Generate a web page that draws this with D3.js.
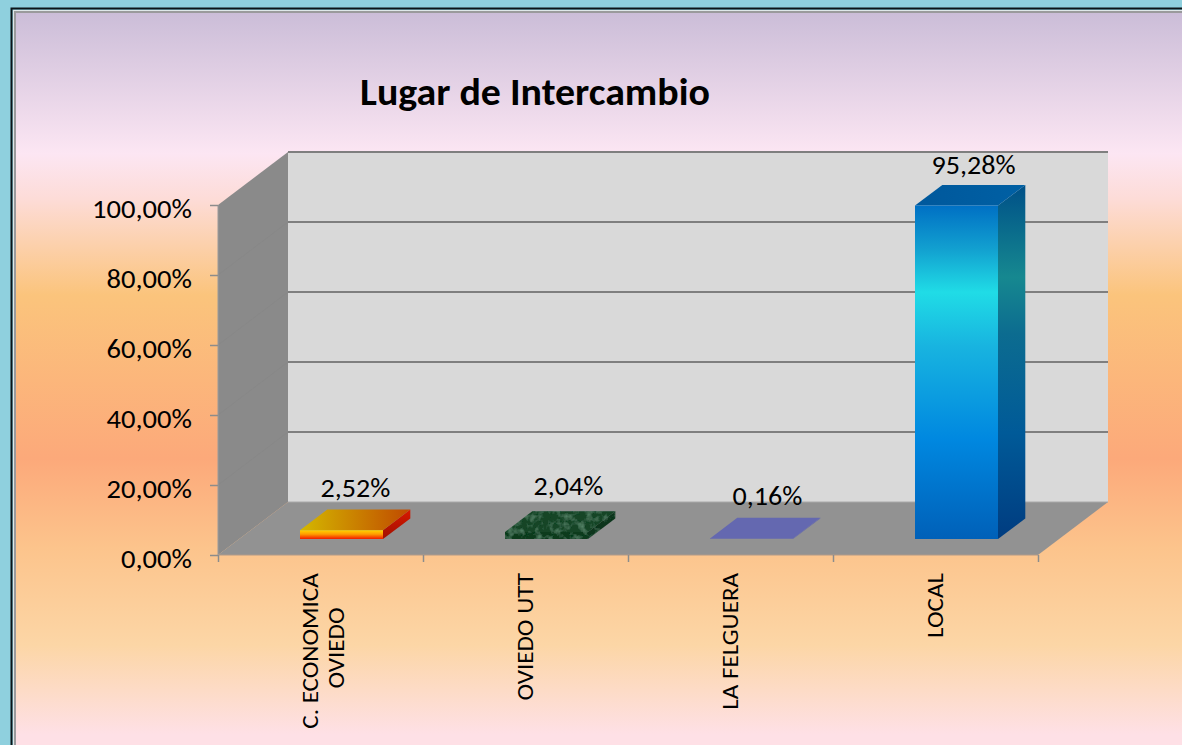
<!DOCTYPE html>
<html><head><meta charset="utf-8">
<script src="https://cdn.jsdelivr.net/npm/d3@7"></script>
<style>html,body{margin:0;padding:0;background:#8fd0de;overflow:hidden}text{font-family:Carlito,Lato,"Open Sans",sans-serif}</style>
</head><body><svg id="c" width="1182" height="745"></svg>
<script>
const categories = [["C. ECONOMICA","OVIEDO"],["OVIEDO UTT"],["LA FELGUERA"],["LOCAL"]];
const values = [2.52, 2.04, 0.16, 95.28];
const valueLabels = ["2,52%","2,04%","0,16%","95,28%"];
const yTicks = [0,20,40,60,80,100];
const yTickLabels = ["0,00%","20,00%","40,00%","60,00%","80,00%","100,00%"];
const titleText = "Lugar de Intercambio";

const W=1182,H=745;
const svg=d3.select("#c");
const defs=svg.append("defs");
const grad=(id,stops,x2=0,y2=1)=>{const g=defs.append("linearGradient").attr("id",id).attr("x1",0).attr("y1",0).attr("x2",x2).attr("y2",y2);
 stops.forEach(s=>g.append("stop").attr("offset",s[0]).attr("stop-color",s[1]));return g;};
grad("bg",[[0,"#cbbdd8"],[.19,"#fce6f3"],[.25,"#fddcd8"],[.38,"#fbc47c"],[.60,"#fca97a"],[.72,"#fcc48c"],[.85,"#fcd6a6"],[.97,"#fee0e6"]]);
grad("fTop",[[0,"#d4b800"],[1,"#c04a00"]],1,0);
grad("fFront",[[0,"#ffd400"],[.45,"#ff9a00"],[1,"#f01800"]]);
grad("fSide",[[0,"#d81800"],[1,"#a01000"]]);
grad("lFront",[[0,"#0070c4"],[.13,"#12a0d0"],[.26,"#20dce6"],[.42,"#18b4e0"],[.7,"#0088e0"],[1,"#0060b8"]]);
grad("lSide",[[0,"#005088"],[.13,"#0a6c8c"],[.26,"#168890"],[.42,"#0c6c90"],[.7,"#005a98"],[1,"#003c80"]]);
grad("lTop",[[0,"#00589c"],[1,"#0060a4"]],1,0);
const f=defs.append("filter").attr("id","marble").attr("x",0).attr("y",0).attr("width",1).attr("height",1);
f.append("feTurbulence").attr("type","fractalNoise").attr("baseFrequency",.14).attr("numOctaves",3).attr("seed",4).attr("result","n");
f.append("feColorMatrix").attr("in","n").attr("type","matrix").attr("values","0 0 0 0 .16  0 0 0 0 .38  0 0 0 0 .24  1.2 0 0 0 -.55").attr("result","t");
f.append("feComposite").attr("in","t").attr("in2","SourceGraphic").attr("operator","in").attr("result","c");
f.append("feMerge").call(m=>{m.append("feMergeNode").attr("in","SourceGraphic");m.append("feMergeNode").attr("in","c");});

// frame
svg.append("rect").attr("x",11.5).attr("y",8.5).attr("width",W).attr("height",H).attr("fill","none").attr("stroke","#0c1418").attr("stroke-width",2);
svg.append("rect").attr("x",13).attr("y",10).attr("width",W).attr("height",H).attr("fill","#dfe8ea");
svg.append("rect").attr("x",15).attr("y",12).attr("width",W).attr("height",H).attr("fill","url(#bg)").attr("stroke","#9a9a9c").attr("stroke-width",2);

// widen a text selection, the reference's type is stretched horizontally
const stretch=(sel,k)=>sel.each(function(){this.setAttribute("textLength",this.getComputedTextLength()*k);this.setAttribute("lengthAdjust","spacingAndGlyphs");});

const x=d3.scaleBand().domain(d3.range(categories.length)).range([218,1038]).paddingInner(0).paddingOuter(0);
const y=d3.scaleLinear().domain([0,100]).range([555,205]);
const depthX=70,depthY=-53;
const P=(px,py,z)=>[px+depthX*z,py+depthY*z];
const poly=(pts)=>"M"+pts.map(p=>p.join(",")).join("L")+"Z";
const g=svg.append("g");
const x0=218,x1=1038;
const wall=(pts,fill)=>g.append("path").attr("d",poly(pts)).attr("fill",fill);
wall([P(x0,y(0),0),P(x0,y(100),0),P(x0,y(100),1),P(x0,y(0),1)],"#8a8a8a");
wall([P(x0,y(0),1),P(x0,y(100),1),P(x1,y(100),1),P(x1,y(0),1)],"#d9d9d9");
wall([P(x0,y(0),0),P(x0,y(0),1),P(x1,y(0),1),P(x1,y(0),0)],"#929292");
yTicks.forEach(t=>{
 const a=P(x0,y(t),0),b=P(x0,y(t),1),c=P(x1,y(t),1);
 g.append("path").attr("d",`M${a}L${b}`).attr("fill","none").attr("stroke","#848484").attr("stroke-opacity",t===100||t===0?0:.4).attr("stroke-width",1);
 g.append("path").attr("d",`M${b}L${c}`).attr("fill","none").attr("stroke",t===0?"#a8a8a8":"#7f7f7f").attr("stroke-width",t===0?1:2);
});
const ya=d3.axisLeft(y).tickValues(yTicks).tickSize(8).tickPadding(18).tickFormat((d,i)=>yTickLabels[i]);
const ga=svg.append("g").attr("transform","translate(218,0)").call(ya);
ga.select(".domain").attr("stroke","#9a9a9a").attr("d","M0,205V555");
ga.selectAll(".tick line").attr("stroke","#8c8c8c").attr("stroke-width",1.5);
ga.selectAll(".tick text").attr("font-size",26).attr("fill","#000").attr("dy","0.48em").style("font-family","Carlito,Lato,sans-serif").call(stretch,1.1);
const xa=d3.axisBottom(d3.scaleLinear().domain([0,4]).range([218,1038])).tickValues([0,1,2,3,4]).tickSize(7).tickFormat("");
const gx=svg.append("g").attr("transform","translate(0,555)").call(xa);
gx.select(".domain").attr("stroke","#b09a88").attr("d","M218,0H1038");
gx.selectAll(".tick line").attr("stroke","#8c8c8c").attr("stroke-width",1.5);
categories.forEach((lines,i)=>{
 const cx=x(i)+x.bandwidth()/2;
 const multi=lines.length>1;
 const t=svg.append("text").attr("transform",`translate(${cx+(multi?3:0)},573) rotate(-90)`).attr("font-size",23).attr("fill","#000");
 lines.forEach((l,j)=>t.append("tspan").attr("x",multi?(j?-75:-78):0).attr("text-anchor",multi?"middle":"end").attr("y",(j-(lines.length-1)/2)*26+7.5).text(l));
 t.selectAll("tspan").call(stretch,1.09);
});
const z0=.3,zd=.39;
const barW=83;
const labelDx=[14,22,16,17], labelDy=[-33,-37,-34,-32];
const fills=[{front:"url(#fFront)",top:"url(#fTop)",side:"url(#fSide)"},
 {front:"#0e3a1f",top:"#134526",side:"#0c341b",marble:true},
 {front:"#6468b0",top:"#6468b0",side:"#6468b0"},
 {front:"url(#lFront)",top:"url(#lTop)",side:"url(#lSide)"}];
values.forEach((v,i)=>{
 const cx=x(i)+x.bandwidth()/2, L=cx-barW/2, R=cx+barW/2, b=y(0), tp=y(v);
 const s=fills[i], gb=svg.append("g");
 gb.append("path").attr("d",poly([P(R,b,z0),P(R,tp,z0),P(R,tp,z0+zd),P(R,b,z0+zd)])).attr("fill",s.side);
 gb.append("path").attr("d",poly([P(L,tp,z0),P(L,tp,z0+zd),P(R,tp,z0+zd),P(R,tp,z0)])).attr("fill",s.top);
 gb.append("path").attr("d",poly([P(L,b,z0),P(L,tp,z0),P(R,tp,z0),P(R,b,z0)])).attr("fill",s.front);
 if(s.marble) gb.attr("filter","url(#marble)");
 const lp=P(cx,tp,z0);
 svg.append("text").attr("x",lp[0]+labelDx[i]).attr("y",lp[1]+labelDy[i]).attr("text-anchor","middle").attr("font-size",26).attr("fill","#000").text(valueLabels[i]).call(stretch,1.08);
});
svg.append("text").attr("x",535).attr("y",105).attr("text-anchor","middle").attr("font-size",38).attr("font-weight",700).attr("fill","#000").text(titleText).call(stretch,1.05);
</script></body></html>
